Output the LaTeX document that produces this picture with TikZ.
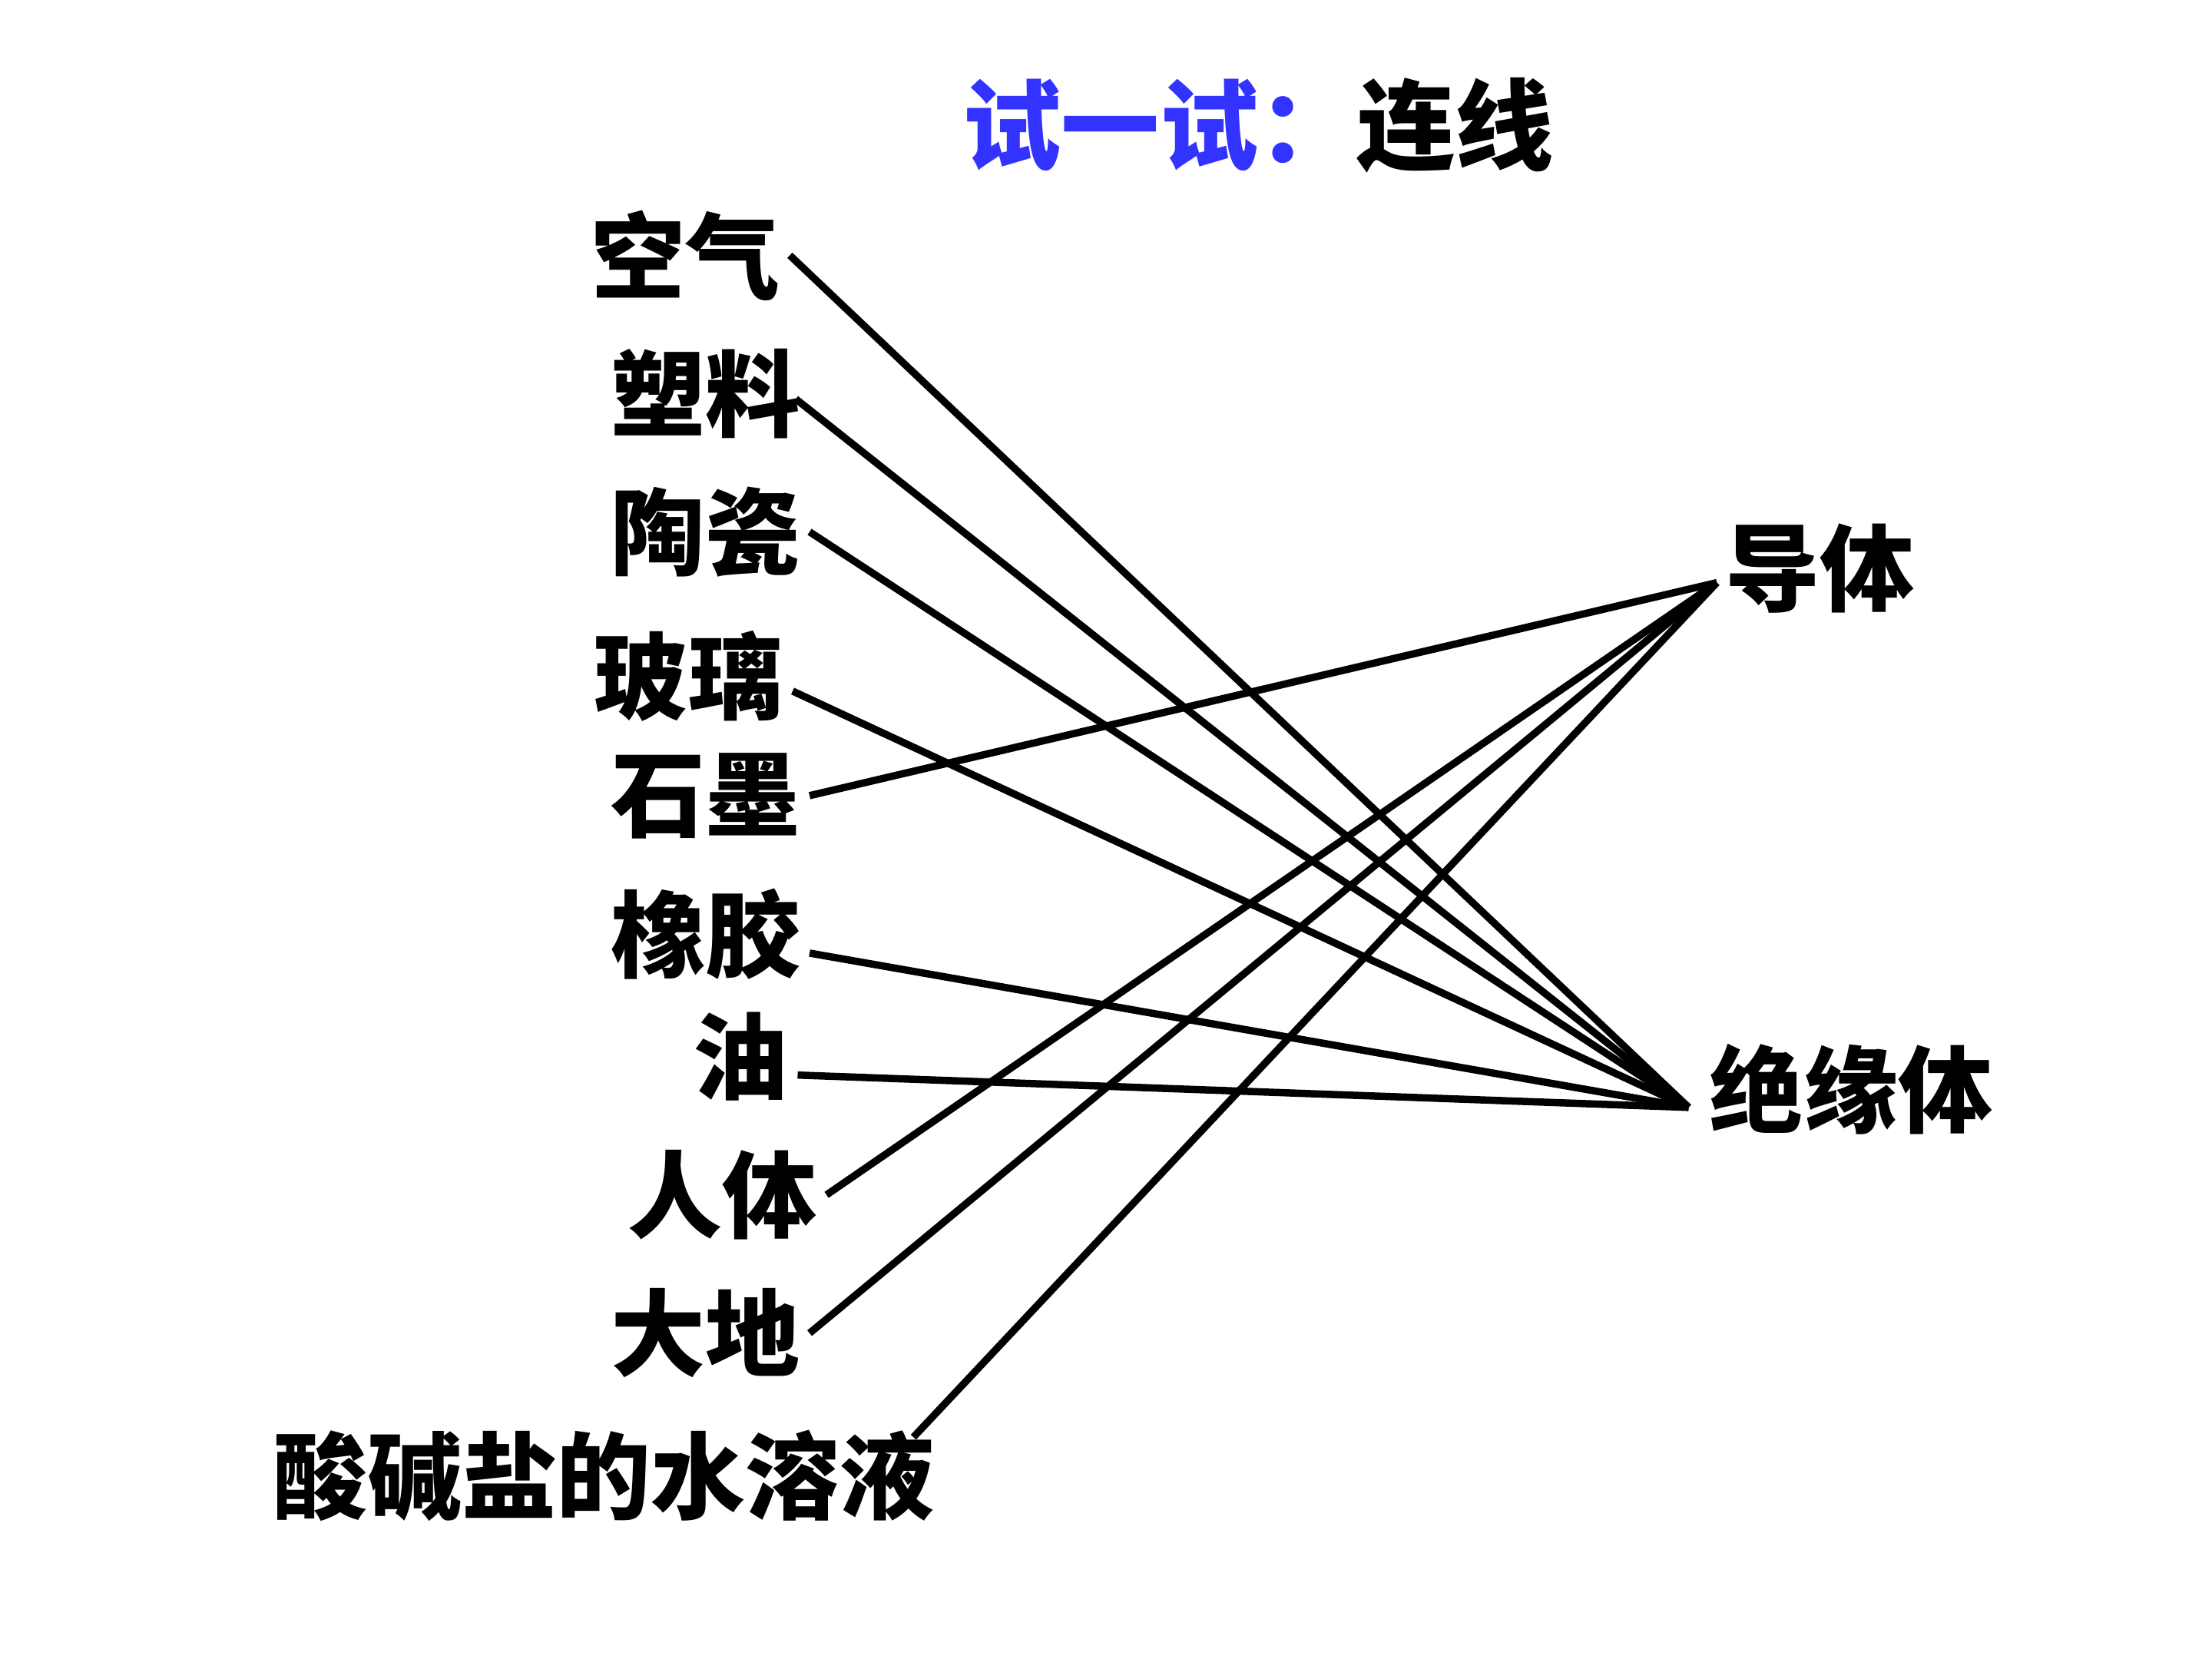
\documentclass[tikz,border=0pt]{standalone}
\usepackage{fontspec}
\newfontfamily\cjk{Noto Sans CJK SC}
\definecolor{tblue}{RGB}{51,51,255}
\begin{document}
\begin{tikzpicture}[x=0.018367cm,y=-0.018367cm,
  lbl/.style={font=\cjk\fontsize{35}{40}\selectfont\bfseries, inner sep=0.12cm, anchor=center},
  ttl/.style={font=\cjk\fontsize{36.5}{40}\selectfont\bfseries, inner sep=0.12cm, anchor=center},
  link/.style={line width=2.7pt, black}]
\useasboundingbox (0,0) rectangle (1568,1176);
\node[ttl] (title) at (892,89) {{\color{tblue}试一试：}连线};
\node[lbl] (a1) at (486,181) {空气};
\node[lbl] (a2) at (500,279) {塑料};
\node[lbl] (a3) at (500,377) {陶瓷};
\node[lbl] (a4) at (488,479) {玻璃};
\node[lbl] (a5) at (500,564) {石墨};
\node[lbl] (a6) at (500,662) {橡胶};
\node[lbl] (a7) at (525,749) {油};
\node[lbl] (a8) at (512,847) {人体};
\node[lbl] (a9) at (500,945) {大地};
\node[lbl] (a10) at (428,1046) {酸碱盐的水溶液};
\node[lbl] (cond) at (1290,403) {导体};
\node[lbl] (insu) at (1312,772) {绝缘体};
\coordinate (con) at (1217,413);
\coordinate (ins) at (1197,785);
\draw[link] (a1.east) -- (ins);
\draw[link] ([xshift=-0.18cm,yshift=-0.07cm]a2.east) -- (ins);
\draw[link] (a3.east) -- (ins);
\draw[link] ([yshift=-0.2cm]a4.east) -- (ins);
\draw[link] (a5.east) -- (con);
\draw[link] ([yshift=-0.25cm]a6.east) -- (ins);
\draw[link] ([yshift=-0.24cm]a7.east) -- (ins);
\draw[link] (a8.east) -- (con);
\draw[link] (a9.east) -- (con);
\draw[link] ([xshift=-0.4cm,yshift=-0.22cm]a10.north east) -- (con);
\end{tikzpicture}
\end{document}
